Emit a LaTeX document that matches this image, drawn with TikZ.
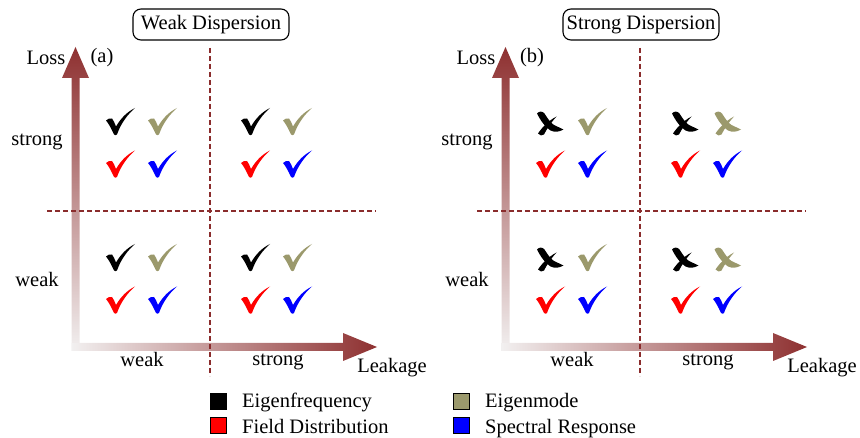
\documentclass[tikz,border=0pt]{standalone}
\usepackage{fontspec}
\setmainfont{Liberation Serif}
\definecolor{arrowred}{RGB}{142,48,48}
\definecolor{dashred}{RGB}{138,44,44}
\definecolor{olivechk}{RGB}{155,153,108}
\definecolor{paleend}{RGB}{242,240,240}
\begin{document}
\begin{tikzpicture}[x=1pt,y=-1pt,
  lbl/.style={font=\fontsize{20.5}{24}\selectfont, inner sep=0pt, anchor=base},
  titlebox/.style={draw, rounded corners=8pt, line width=1.1pt, font=\fontsize{20.5}{24}\selectfont, minimum width=156pt, minimum height=31pt, inner sep=2pt},
  divline/.style={dashred, line width=2.8pt, dash pattern=on 5pt off 3pt},
  legsq/.style={draw=black, line width=0.8pt, minimum size=16pt, inner sep=0pt},
  legtxt/.style={font=\fontsize{20.5}{24}\selectfont, inner sep=0pt, anchor=base west},
  chk/.pic={
    \fill[shift={(-14.5,-13.5)}]
      (0,12.5) .. controls (2,10.5) and (4,10) .. (6,10.5)
      .. controls (7.5,12) and (8.5,15) .. (10,18.5)
      .. controls (15,10) and (21,4) .. (29,0)
      .. controls (22,6) and (15,15) .. (11,26.5)
      .. controls (10.5,27.5) and (8.5,27.5) .. (8,26.5)
      .. controls (5.5,21) and (3,16) .. (0,12.5) -- cycle;
  },
  xmk/.pic={
    \begin{scope}[shift={(-13,-11.5)}]
    \fill (0,1.5) .. controls (2,-1) and (5.5,-1) .. (7.5,1.5)
      .. controls (10.5,6) and (13,10.5) .. (17,13)
      .. controls (20,15) and (23.5,15.5) .. (26.5,17.5)
      .. controls (22,20) and (18,20.5) .. (13.5,18.5)
      .. controls (8.5,15.5) and (3.5,8.5) .. (0,1.5) -- cycle;
    \fill (1,21.5) .. controls (5,15.5) and (11,9) .. (19.5,4.5)
      .. controls (14.5,10) and (10,16.5) .. (7,22.5)
      .. controls (5.5,24) and (2.5,24) .. (1,21.5) -- cycle;
    \end{scope}
  }]
\useasboundingbox (0,0) rectangle (860,438);

\foreach \p/\dx/\ttl in {a/0/{Weak Dispersion},b/430/{Strong Dispersion}}{
  \begin{scope}[xshift=\dx pt]
    % gradient arrows
    \shade[top color=arrowred, bottom color=paleend]
      (71.5,351) -- (71.5,78) -- (62,78) -- (75.5,47) -- (89,78) -- (79.5,78) -- (79.5,351) -- cycle;
    \shade[left color=paleend, right color=arrowred]
      (71.5,343) -- (343,343) -- (343,333) -- (377,347) -- (343,361) -- (343,351) -- (71.5,351) -- cycle;
    % dividers
    \coordinate (\p vt) at (210,48);
    \coordinate (\p vb) at (210,376);
    \coordinate (\p hl) at (47,211);
    \coordinate (\p hr) at (376,211);
    \draw[divline] (\p vt) -- (\p vb);
    \draw[divline] (\p hl) -- (\p hr);
    % title
    \node[titlebox] (\p title) at (211,24.5) {\ttl};
    % labels
    \node[lbl] (\p loss) at (46,65) {Loss};
    \node[lbl] (\p tag) at (102,63) {(\p)};
    \node[lbl] (\p ls) at (37,146) {strong};
    \node[lbl] (\p lw) at (37,287) {weak};
    \node[lbl] (\p bw) at (142,367) {weak};
    \node[lbl] (\p bs) at (278,366) {strong};
    \node[lbl] (\p leak) at (392,373) {Leakage};
  \end{scope}
}

% marks, panel (a)
\foreach \cx/\cy in {0/0,135/0,0/136,135/136}{
  \pic[black]    at (120.5+\cx,121.5+\cy) {chk};
  \pic[olivechk] at (162.5+\cx,121.5+\cy) {chk};
  \pic[red]      at (120.5+\cx,164+\cy) {chk};
  \pic[blue]     at (162.5+\cx,164+\cy) {chk};
}
% marks, panel (b)
\foreach \cx/\cy in {0/0,0/136}{
  \pic[black]    at (550+\cx,123.5+\cy) {xmk};
  \pic[olivechk] at (592.5+\cx,121.5+\cy) {chk};
  \pic[red]      at (550.5+\cx,164+\cy) {chk};
  \pic[blue]     at (592.5+\cx,164+\cy) {chk};
}
\foreach \cx/\cy in {135/0,135/136}{
  \pic[black]    at (550+\cx,123.5+\cy) {xmk};
  \pic[olivechk] at (592.5+\cx,123.5+\cy) {xmk};
  \pic[red]      at (550.5+\cx,164+\cy) {chk};
  \pic[blue]     at (592.5+\cx,164+\cy) {chk};
}

% legend
\node[legsq, fill=black]    (sqk) at (218,401.5) {};
\node[legsq, fill=red]      (sqr) at (218,425) {};
\node[legsq, fill=olivechk] (sqo) at (461,401.5) {};
\node[legsq, fill=blue]     (sqb) at (461,425) {};
\node[legtxt] (tk) at (242,408) {Eigenfrequency};
\node[legtxt] (tr) at (242,433) {Field Distribution};
\node[legtxt] (to) at (485,408) {Eigenmode};
\node[legtxt] (tb) at (485,433) {Spectral Response};
\end{tikzpicture}
\end{document}
